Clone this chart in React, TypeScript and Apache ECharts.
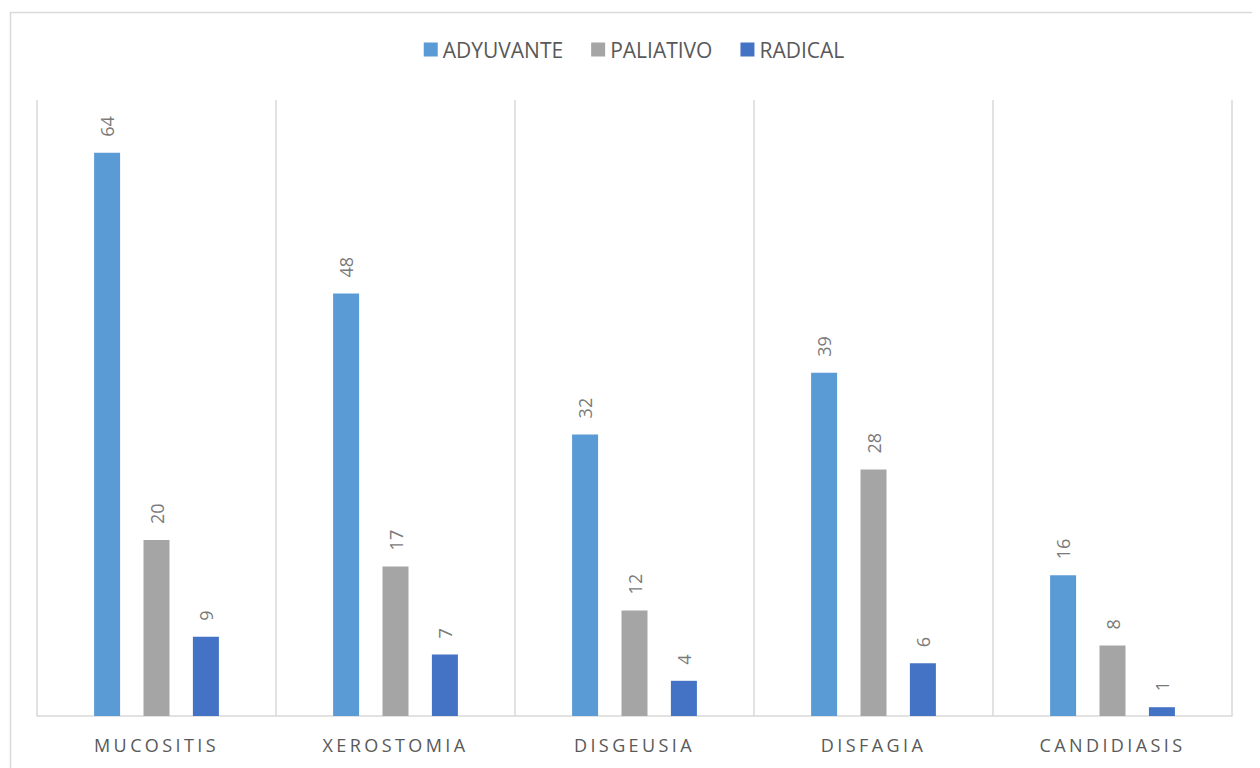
import React, { useEffect, useRef } from "react";
import * as echarts from "echarts";

// Side effects grouped by treatment type
const categories = ["MUCOSITIS", "XEROSTOMIA", "DISGEUSIA", "DISFAGIA", "CANDIDIASIS"];
const adyuvante = [64, 48, 32, 39, 16];
const paliativo = [20, 17, 12, 28, 8];
const radical = [9, 7, 4, 6, 1];

const FONT = "'Open Sans', 'Noto Sans', sans-serif";
const TEXT_COLOR = "#595959";
const LABEL_COLOR = "#7a7a7a";
const LINE_COLOR = "#d9d9d9";

const barLabel = {
  show: true,
  position: "top" as const,
  rotate: 90,
  align: "left" as const,
  verticalAlign: "middle" as const,
  distance: 16,
  color: LABEL_COLOR,
  fontFamily: FONT,
  fontSize: 18,
};

// Spread the category names out a little, like the original axis caption style
function spaceAxisLabels(root: HTMLElement | null) {
  if (!root) return;
  root.querySelectorAll("text").forEach((t) => {
    if (categories.includes((t.textContent || "").trim())) {
      t.setAttribute("letter-spacing", "3.4");
    }
  });
}

export default function App() {
  const ref = useRef<HTMLDivElement>(null);

  useEffect(() => {
    if (!ref.current) return;
    const chart = echarts.init(ref.current, null, { renderer: "svg" });
    chart.setOption({
      animation: false,
      backgroundColor: "#ffffff",
      textStyle: { fontFamily: FONT },
      graphic: [
        {
          type: "rect",
          left: 0,
          top: 2,
          shape: { x: 0, y: 0, width: 1300, height: 800 },
          style: { fill: "none", stroke: LINE_COLOR, lineWidth: 1.5 },
          silent: true,
          z: -1,
        },
      ],
      legend: {
        top: 26,
        left: "center",
        itemWidth: 14,
        itemHeight: 14,
        itemGap: 28,
        icon: "rect",
        textStyle: { color: TEXT_COLOR, fontSize: 21, fontFamily: FONT },
        data: ["ADYUVANTE", "PALIATIVO", "RADICAL"],
      },
      grid: { left: 29, right: 28, top: 92, bottom: 52, containLabel: false },
      xAxis: {
        type: "category",
        data: categories,
        axisLine: { show: true, lineStyle: { color: LINE_COLOR, width: 1.5 } },
        axisTick: { show: false },
        splitLine: { show: true, lineStyle: { color: LINE_COLOR, width: 1.5 } },
        axisLabel: { color: TEXT_COLOR, fontSize: 18, fontFamily: FONT, margin: 20 },
      },
      yAxis: {
        type: "value",
        min: 0,
        max: 70,
        show: false,
        splitLine: { show: false },
      },
      series: [
        {
          name: "ADYUVANTE",
          type: "bar",
          data: adyuvante,
          barWidth: 26,
          barGap: "90%",
          itemStyle: { color: "#5b9bd5" },
          label: barLabel,
        },
        {
          name: "PALIATIVO",
          type: "bar",
          data: paliativo,
          barWidth: 26,
          barGap: "90%",
          itemStyle: { color: "#a5a5a5" },
          label: barLabel,
        },
        {
          name: "RADICAL",
          type: "bar",
          data: radical,
          barWidth: 26,
          barGap: "90%",
          itemStyle: { color: "#4472c4" },
          label: barLabel,
        },
      ],
    });
    spaceAxisLabels(ref.current);
    const onFinished = () => spaceAxisLabels(ref.current);
    chart.on("finished", onFinished);
    return () => {
      chart.off("finished", onFinished);
      chart.dispose();
    };
  }, []);

  return <div ref={ref} style={{ width: 1252, height: 760 }} />;
}
